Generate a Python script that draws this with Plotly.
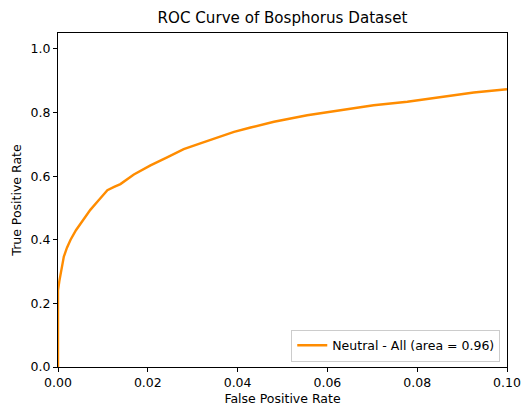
import plotly.graph_objects as go

fpr = [0, 0, 0.0003, 0.0006, 0.0013, 0.002, 0.0028, 0.004, 0.0057, 0.0072,
       0.0091, 0.011, 0.0125, 0.0139, 0.0169, 0.0206, 0.0243, 0.028, 0.0317,
       0.0355, 0.0392, 0.0429, 0.0481, 0.0555, 0.0629, 0.0703, 0.0778, 0.0852,
       0.0926, 0.1]
tpr = [0, 0.24, 0.27, 0.295, 0.347, 0.375, 0.40, 0.43, 0.462, 0.494,
       0.525, 0.556, 0.566, 0.575, 0.605, 0.634, 0.659, 0.685, 0.703,
       0.7225, 0.739, 0.753, 0.771, 0.7915, 0.807, 0.823, 0.834, 0.849,
       0.863, 0.873]
series_name = "Neutral - All (area = 0.96)"
x_ticks = [0, 0.02, 0.04, 0.06, 0.08, 0.10]
y_ticks = [0, 0.2, 0.4, 0.6, 0.8, 1.0]

FONT = "DejaVu Sans"
FS = 12.5
fig = go.Figure()
fig.add_trace(go.Scatter(x=fpr, y=tpr, mode="lines", name=series_name,
                         line=dict(color="#FF8C00", width=2.4)))

axis_common = dict(showgrid=False, zeroline=False, showline=True, linecolor="black",
                   linewidth=1, mirror=True, ticks="outside", ticklen=4,
                   tickcolor="black", tickwidth=1, automargin=False,
                   tickfont=dict(family=FONT, size=FS, color="black"))
fig.update_xaxes(range=[0, 0.1], tickvals=x_ticks, tickformat=".2f",
                 title=dict(text="False Positive Rate", font=dict(family=FONT, size=FS, color="black"), standoff=5),
                 **axis_common)
fig.update_yaxes(range=[0, 1.05], tickvals=y_ticks, tickformat=".1f",
                 title=dict(text="True Positive Rate", font=dict(family=FONT, size=FS, color="black"), standoff=6),
                 **axis_common)
fig.update_layout(
    width=523, height=409,
    margin=dict(l=57.5, r=16.3, t=32.5, b=41.5),
    paper_bgcolor="white", plot_bgcolor="white",
    title=dict(text="ROC Curve of Bosphorus Dataset", x=0.5, xref="paper", xanchor="center",
               y=1 - 18 / 409, yanchor="middle",
               font=dict(family=FONT, size=15.1, color="black")),
    showlegend=True,
    legend=dict(x=0.985, y=0.016, xanchor="right", yanchor="bottom", itemwidth=30,
                bgcolor="rgba(255,255,255,0.8)", bordercolor="#cccccc", borderwidth=1,
                font=dict(family=FONT, size=FS, color="black")),
)
fig.write_html("out.html", config={"displayModeBar": False},
               post_script="document.body.style.margin='0';document.body.style.overflow='hidden';")
